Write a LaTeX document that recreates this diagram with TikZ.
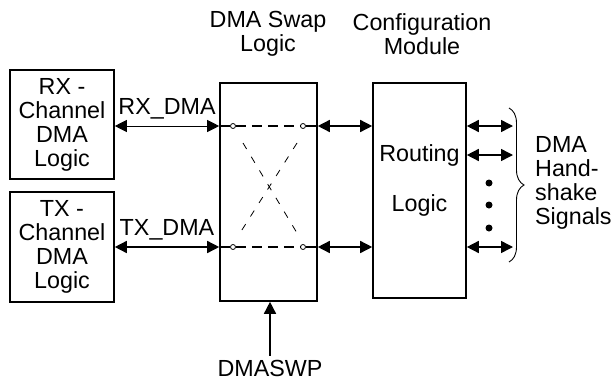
\documentclass[tikz,border=0pt]{standalone}
\usepackage{fontspec}
\setmainfont{Liberation Sans}
\usepackage{tikz}
\usetikzlibrary{arrows.meta, positioning, decorations.pathreplacing}

\begin{document}
\begin{tikzpicture}[
    x=1pt, y=-1pt,
    every node/.style={font=\fontsize{23.3}{24}\selectfont},
    box/.style={draw, line width=1.6pt, inner sep=0pt, align=center},
    txt/.style={align=center, inner sep=0pt},
    arrow/.style={{Triangle[length=12pt,width=12pt]}-{Triangle[length=12pt,width=12pt]}, line width=1.5pt},
    uparrow/.style={-{Triangle[length=12pt,width=12pt]}, line width=1.5pt},
    pin/.style={circle, draw, fill=white, inner sep=0pt, minimum size=5pt, line width=0.8pt},
    swapline/.style={line width=1.3pt, dash pattern=on 10pt off 6pt},
    crossline/.style={line width=0.8pt, dash pattern=on 7pt off 9pt},
    dot/.style={circle, fill, inner sep=0pt, minimum size=7pt}
]
\useasboundingbox (0,0) rectangle (615,380);

% Channel boxes
\node[box, minimum width=104pt, minimum height=109pt] (rx) at (62,124.5) {RX -\\Channel\\DMA\\Logic};
\node[box, minimum width=104pt, minimum height=110pt] (tx) at (62,247) {TX -\\Channel\\DMA\\Logic};

% Swap and routing blocks
\node[box, minimum width=97pt, minimum height=218pt] (swap) at (268.5,192) {};
\node[box, minimum width=93pt, minimum height=215pt] (route) at (419.5,190.5) {};
\node[txt] (routetxt) at (419.5,180) {Routing\\[26pt]Logic};

% Titles
\node[txt] (swaptitle) at (268,34) {DMA Swap\\Logic};
\node[txt] (cfgtitle) at (422,34) {Configuration\\Module};

% Swap pins
\node[pin] (p1) at (233,126) {};
\node[pin] (p2) at (303,126) {};
\node[pin] (p3) at (233,247) {};
\node[pin] (p4) at (303,247) {};
\coordinate (s1) at (swap.west |- p1);
\coordinate (s2) at (swap.east |- p2);
\coordinate (s3) at (swap.west |- p3);
\coordinate (s4) at (swap.east |- p4);
\coordinate (r1) at (route.west |- p2);
\coordinate (r2) at (route.west |- p4);
\draw[line width=1.3pt] (s1) -- (p1);
\draw[line width=1.3pt] (p2) -- (s2);
\draw[line width=1.3pt] (s3) -- (p3);
\draw[line width=1.3pt] (p4) -- (s4);
\draw[swapline] (p1) -- (p2);
\draw[swapline] (p3) -- (p4);
\coordinate (c1) at (243,143);
\coordinate (c2) at (297,233);
\coordinate (c3) at (297,143);
\coordinate (c4) at (240,233);
\draw[crossline] (c1) -- (c2);
\draw[crossline] (c3) -- (c4);

% Channel connections
\draw[arrow, line width=1pt] (rx.east |- p1) -- node[above=6pt, inner sep=0pt] (rxlbl) {RX\_DMA} (s1);
\draw[arrow] (tx.east |- p3) -- node[above=6pt, inner sep=0pt] (txlbl) {TX\_DMA} (s3);
\draw[arrow] (s2) -- (r1);
\draw[arrow] (s4) -- (r2);

% Swap control
\node[txt] (dmaswp) at (270,368) {DMASWP};
\draw[uparrow] (dmaswp.north) ++(0,-4) coordinate (q) (q) -- (q |- swap.south);

% Handshake outputs
\coordinate (h1) at (513,126);
\coordinate (h2) at (513,155);
\coordinate (h3) at (513,247);
\draw[arrow] (route.east |- h1) -- (h1);
\draw[arrow] (route.east |- h2) -- (h2);
\draw[arrow] (route.east |- h3) -- (h3);
\node[dot] (d1) at (489,183) {};
\node[dot] (d2) at (489,205) {};
\node[dot] (d3) at (489,228) {};

% Brace and label
\coordinate (b1) at (509,108);
\coordinate (b2) at (509,262);
\draw[line width=0.9pt, decorate, decoration={brace, amplitude=15pt}] (b1) -- (b2);
\node[txt, align=left, anchor=west] (hslbl) at (535,183) {DMA\\Hand-\\shake\\Signals};

\end{tikzpicture}
\end{document}
